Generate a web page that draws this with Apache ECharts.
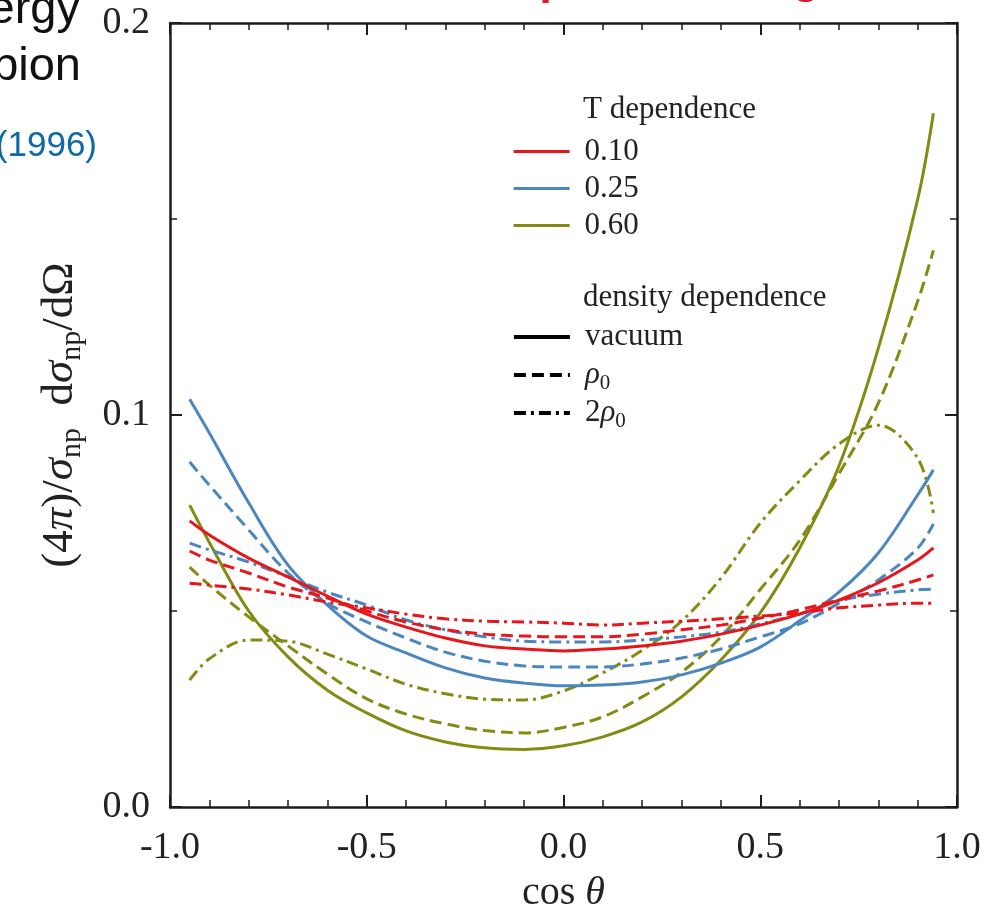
<!DOCTYPE html>
<html><head><meta charset="utf-8">
<script src="https://cdn.jsdelivr.net/npm/echarts@6/dist/echarts.min.js"></script>
<style>html,body{margin:0;padding:0;background:#fff}#c{width:984px;height:920px}</style>
</head><body><div id="c"></div>
<script>
// ---- data ----
const cosTheta = [-0.95, -0.9, -0.8, -0.7, -0.6, -0.5, -0.4, -0.3, -0.2, -0.1, 0, 0.1, 0.2, 0.3, 0.4, 0.5, 0.6, 0.7, 0.8, 0.9, 0.94];

const redVacuum  = [0.0730, 0.0694, 0.0635, 0.0587, 0.0538, 0.0492, 0.0459, 0.0431, 0.0411, 0.0403, 0.0398, 0.0403, 0.0411, 0.0423, 0.0441, 0.0464, 0.0492, 0.0528, 0.0572, 0.0630, 0.0661];
const redRho0    = [0.0653, 0.0630, 0.0597, 0.0561, 0.0533, 0.0500, 0.0472, 0.0452, 0.0441, 0.0436, 0.0434, 0.0434, 0.0441, 0.0452, 0.0464, 0.0482, 0.0503, 0.0528, 0.0551, 0.0579, 0.0592];
const red2Rho0   = [0.0571, 0.0566, 0.0556, 0.0541, 0.0523, 0.0508, 0.0492, 0.0480, 0.0474, 0.0472, 0.0469, 0.0464, 0.0469, 0.0474, 0.0480, 0.0487, 0.0495, 0.0508, 0.0515, 0.0520, 0.0520];

const blueVacuum = [0.1040, 0.0954, 0.0776, 0.0617, 0.0515, 0.0436, 0.0393, 0.0355, 0.0329, 0.0316, 0.0309, 0.0311, 0.0319, 0.0337, 0.0367, 0.0408, 0.0475, 0.0548, 0.0648, 0.0796, 0.0860];
const blueRho0   = [0.0880, 0.0821, 0.0707, 0.0597, 0.0520, 0.0472, 0.0431, 0.0395, 0.0372, 0.0360, 0.0357, 0.0357, 0.0365, 0.0380, 0.0403, 0.0434, 0.0467, 0.0520, 0.0579, 0.0660, 0.0722];
const blue2Rho0  = [0.0673, 0.0656, 0.0625, 0.0587, 0.0548, 0.0515, 0.0477, 0.0452, 0.0434, 0.0423, 0.0421, 0.0421, 0.0426, 0.0434, 0.0446, 0.0467, 0.0492, 0.0526, 0.0543, 0.0554, 0.0556];

const oliveVacuum = [0.0770, 0.0675, 0.0500, 0.0383, 0.0298, 0.0240, 0.0194, 0.0166, 0.0151, 0.0147, 0.0156, 0.0179, 0.0217, 0.0281, 0.0375, 0.0495, 0.0660, 0.0870, 0.1170, 0.1550, 0.1770];
const oliveRho0   = [0.0612, 0.0566, 0.0485, 0.0411, 0.0339, 0.0276, 0.0237, 0.0212, 0.0195, 0.0189, 0.0203, 0.0230, 0.0281, 0.0344, 0.0434, 0.0555, 0.0680, 0.0850, 0.1030, 0.1290, 0.1420];
const olive2Rho0  = [0.0324, 0.0378, 0.0426, 0.0423, 0.0390, 0.0352, 0.0313, 0.0289, 0.0275, 0.0273, 0.0296, 0.0342, 0.0400, 0.0474, 0.0584, 0.0724, 0.0832, 0.0926, 0.0974, 0.0890, 0.0750];

const tempLabels = ['0.10', '0.25', '0.60'];
const densityLabels = ['vacuum', 'ρ0', '2ρ0'];
const xTickValues = [-1.0, -0.5, 0.0, 0.5, 1.0];
const yTickValues = [0.0, 0.1, 0.2];

// ---- styling ----
const SERIF = '"Liberation Serif", "Times New Roman", serif';
const SANS = '"Liberation Sans", Arial, sans-serif';
const AX = '#1c1c1c';
const TXT = '#222';
const tempColors = { '0.10': '#e8161b', '0.25': '#4b87be', '0.60': '#838b12' };
const dashTypes = { 'vacuum': 'solid', 'ρ0': [12, 6], '2ρ0': [12, 5, 3, 5] };

const curves = [
  { t: '0.60', d: 'vacuum', v: oliveVacuum }, { t: '0.60', d: 'ρ0', v: oliveRho0 }, { t: '0.60', d: '2ρ0', v: olive2Rho0 },
  { t: '0.25', d: 'vacuum', v: blueVacuum },  { t: '0.25', d: 'ρ0', v: blueRho0 },  { t: '0.25', d: '2ρ0', v: blue2Rho0 },
  { t: '0.10', d: 'vacuum', v: redVacuum },   { t: '0.10', d: 'ρ0', v: redRho0 },   { t: '0.10', d: '2ρ0', v: red2Rho0 }
];

const series = curves.map(c => ({
  name: 'T=' + c.t + ' ' + c.d,
  type: 'line', smooth: 0.35, symbol: 'none', silent: true,
  data: cosTheta.map((x, i) => [x, c.v[i]]),
  lineStyle: { width: 3, color: tempColors[c.t], type: dashTypes[c.d] },
  itemStyle: { color: tempColors[c.t] }
}));
tempLabels.forEach(t => series.push({ name: t, type: 'line', symbol: 'none', data: [],
  lineStyle: { width: 3.2, color: tempColors[t], type: 'solid' }, itemStyle: { color: tempColors[t] } }));
densityLabels.forEach(d => series.push({ name: d, type: 'line', symbol: 'none', data: [],
  lineStyle: { width: 3.6, color: '#000', type: dashTypes[d] }, itemStyle: { color: '#000' } }));

const fmt = v => (Math.abs(v) < 1e-9 ? 0 : v).toFixed(1);

function axisCommon(show) {
  return {
    axisLine: { show: true, onZero: false, lineStyle: { color: AX, width: 2.5 } },
    axisTick: { show: true, inside: true, length: 12, lineStyle: { color: AX, width: 2 } },
    splitLine: { show: false }, minorSplitLine: { show: false },
    axisLabel: { show: show }
  };
}

const legendText = {
  fontFamily: SERIF, fontSize: 31, color: TXT, lineHeight: 37, padding: [0, 0, 0, 10],
  rich: { n: { fontFamily: SERIF, fontSize: 31, color: TXT },
          i: { fontFamily: SERIF, fontSize: 31, fontStyle: 'italic', color: TXT },
          s: { fontFamily: SERIF, fontSize: 21, color: TXT, padding: [16, 0, 0, 0] } }
};
const legendBase = { orient: 'vertical', left: 512, padding: 0, itemGap: 0, itemWidth: 56, itemHeight: 0.5,
  selectedMode: false, itemStyle: { opacity: 0 } };

const nameRich = {
  n: { fontFamily: SERIF, fontSize: 45, color: TXT },
  i: { fontFamily: SERIF, fontSize: 45, fontStyle: 'italic', color: TXT },
  s: { fontFamily: SERIF, fontSize: 30, color: TXT, padding: [24, 0, 0, 0] }
};
const xNameRich = {
  n: { fontFamily: SERIF, fontSize: 40, color: TXT },
  i: { fontFamily: SERIF, fontSize: 40, fontStyle: 'italic', color: TXT }
};

const option = {
  backgroundColor: '#fff',
  animation: false,
  grid: { left: 170, right: 27, top: 23, bottom: 113, containLabel: false },
  xAxis: [
    Object.assign(axisCommon(true), {
      type: 'value', min: -1, max: 1, interval: 0.5, position: 'bottom',
      minorTick: { show: true, splitNumber: 5, length: 7, lineStyle: { color: AX, width: 1.5 } },
      axisLabel: { show: true, margin: 22, fontFamily: SERIF, fontSize: 38, color: TXT,
        formatter: v => xTickValues.some(t => Math.abs(t - v) < 1e-9) ? fmt(v) : '' },
      name: '{n|cos }{i|θ}', nameLocation: 'middle', nameGap: 66,
      nameTextStyle: { fontFamily: SERIF, fontSize: 40, color: TXT, rich: xNameRich }
    }),
    Object.assign(axisCommon(false), {
      type: 'value', min: -1, max: 1, interval: 0.5, position: 'top',
      minorTick: { show: true, splitNumber: 5, length: 7, lineStyle: { color: AX, width: 1.5 } }
    })
  ],
  yAxis: [
    Object.assign(axisCommon(true), {
      type: 'value', min: 0, max: 0.2, interval: 0.1, position: 'left',
      minorTick: { show: true, splitNumber: 2, length: 7, lineStyle: { color: AX, width: 1.5 } },
      axisLabel: { show: true, margin: 20, fontFamily: SERIF, fontSize: 38, color: TXT,
        formatter: v => yTickValues.some(t => Math.abs(t - v) < 1e-9) ? fmt(v) : '' },
      name: '{n|(4}{i|π}{n|)/}{i|σ}{s|np}{n|  d}{i|σ}{s|np}{n|/dΩ}', nameLocation: 'middle', nameGap: 83, nameRotate: 90,
      nameTextStyle: { fontFamily: SERIF, fontSize: 45, color: TXT, rich: nameRich }
    }),
    Object.assign(axisCommon(false), {
      type: 'value', min: 0, max: 0.2, interval: 0.1, position: 'right',
      minorTick: { show: true, splitNumber: 2, length: 7, lineStyle: { color: AX, width: 1.5 } }
    })
  ],
  legend: [
    Object.assign({}, legendBase, { top: 133, data: tempLabels, textStyle: legendText,
      lineStyle: { width: 3.2 } }),
    Object.assign({}, legendBase, { top: 318, data: densityLabels,
      lineStyle: { width: 3.8 },
      textStyle: Object.assign({}, legendText, { lineHeight: 38 }),
      formatter: n => n === 'vacuum' ? '{n|vacuum}' : (n === 'ρ0' ? '{i|ρ}{s|0}' : '{n|2}{i|ρ}{s|0}') })
  ],
  graphic: [
    { type: 'text', x: 583, y: 110, style: { text: 'T dependence', font: '31px ' + SERIF, fill: TXT, verticalAlign: 'middle' } },
    { type: 'text', x: 583, y: 298, style: { text: 'density dependence', font: '31px ' + SERIF, fill: TXT, verticalAlign: 'middle' } },
    { type: 'text', x: 80, y: 10, style: { text: 'ergy', font: '47px ' + SANS, fill: '#111', align: 'right', verticalAlign: 'middle' } },
    { type: 'text', x: 81, y: 67, style: { text: 'pion', font: '47px ' + SANS, fill: '#111', align: 'right', verticalAlign: 'middle' } },
    { type: 'text', x: 97, y: 146, style: { text: '(1996)', font: '35px ' + SANS, fill: '#0d6aa6', align: 'right', verticalAlign: 'middle' } },
    { type: 'text', x: 553, y: -18, style: { text: 'p', font: 'bold 44px ' + SANS, fill: '#e3161d', align: 'center', verticalAlign: 'middle' } },
    { type: 'text', x: 806, y: -19, style: { text: 'g', font: 'bold 44px ' + SANS, fill: '#e3161d', align: 'center', verticalAlign: 'middle' } }
  ],
  series: series
};

const chart = echarts.init(document.getElementById('c'), null, { renderer: 'canvas' });
chart.setOption(option);
</script>
</body></html>
